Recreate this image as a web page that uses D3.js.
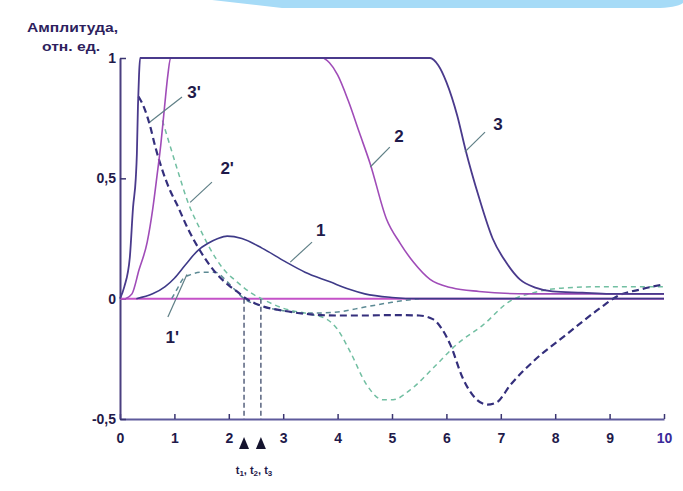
<!DOCTYPE html>
<html>
<head>
<meta charset="utf-8">
<script src="https://cdn.jsdelivr.net/npm/d3@7"></script>
<style>
  body { margin: 0; background: #fff; }
  svg { display: block; font-family: 'Liberation Sans', Arial, sans-serif; }
</style>
</head>
<body>
<svg id="chart" width="683" height="491"></svg>
<script>
// values

var xTicks = [0, 1, 2, 3, 4, 5, 6, 7, 8, 9, 10]
var yTicks = [1, 0.5, 0, -0.5]
var yTickLabels = ['1', '0,5', '0', '-0,5']

// solid curves
var curve3X = [0, 0.08, 0.18, 0.24, 0.29, 0.31, 0.33, 0.35, 0.37, 5.7, 5.85, 6.0, 6.2, 6.35, 6.6, 6.85, 7.1, 7.35, 7.65, 7.95, 8.5, 9, 10]
var curve3Y = [0, 0.05, 0.17, 0.38, 0.5, 0.6, 0.8, 0.93, 1, 1, 0.97, 0.9, 0.76, 0.62, 0.42, 0.25, 0.15, 0.08, 0.045, 0.03, 0.025, 0.02, 0.02]

var curve2X = [0.1, 0.22, 0.35, 0.5, 0.6, 0.68, 0.75, 0.82, 0.88, 0.93, 3.72, 3.85, 4.0, 4.2, 4.4, 4.6, 4.9, 5.15, 5.4, 5.7, 6.1, 6.6, 7.5, 10]
var curve2Y = [0, 0.02, 0.12, 0.235, 0.37, 0.51, 0.64, 0.8, 0.93, 1, 1, 0.98, 0.93, 0.82, 0.69, 0.56, 0.33, 0.23, 0.15, 0.08, 0.045, 0.03, 0.02, 0.02]

var curve1X = [0.3, 0.6, 0.83, 1.0, 1.2, 1.43, 1.62, 1.8, 1.97, 2.24, 2.61, 3.03, 3.4, 3.86, 4.2, 4.5, 5.0, 5.5, 10]
var curve1Y = [0, 0.02, 0.05, 0.085, 0.14, 0.2, 0.23, 0.25, 0.26, 0.25, 0.21, 0.155, 0.11, 0.07, 0.04, 0.02, 0.005, 0, 0]

// dashed curves
var curve3pX = [0.34, 0.45, 0.55, 0.65, 0.77, 0.9, 1.05, 1.25, 1.47, 1.75, 2.0, 2.15, 2.32, 2.6, 3.0, 3.5, 4.0, 4.5, 5.0, 5.5, 5.75, 5.9, 6.07, 6.3, 6.56, 6.75, 6.93, 7.17, 7.6, 8.2, 8.82, 9.14, 9.6, 10]
var curve3pY = [0.84, 0.79, 0.72, 0.63, 0.54, 0.46, 0.39, 0.29, 0.2, 0.11, 0.055, 0.03, 0, -0.03, -0.05, -0.065, -0.07, -0.07, -0.068, -0.07, -0.085, -0.12, -0.19, -0.33, -0.42, -0.44, -0.43, -0.36, -0.26, -0.15, -0.04, 0.01, 0.04, 0.06]

var curve2pX = [0.78, 0.86, 1.05, 1.25, 1.47, 1.65, 1.89, 2.15, 2.4, 2.6, 3.0, 3.5, 3.8, 3.99, 4.23, 4.54, 4.83, 5.02, 5.33, 5.75, 6.19, 6.67, 7.17, 7.6, 8.2, 9, 10]
var curve2pY = [0.74, 0.68, 0.54, 0.4, 0.29, 0.21, 0.126, 0.07, 0.025, 0, -0.04, -0.065, -0.085, -0.125, -0.22, -0.36, -0.42, -0.42, -0.38, -0.29, -0.19, -0.11, -0.01, 0.025, 0.045, 0.05, 0.05]

var curve1pX = [0.95, 1.05, 1.15, 1.3, 1.5, 1.75, 1.95, 2.1, 2.28, 2.6, 3.0, 3.5, 4.0, 4.5, 5.0, 5.5]
var curve1pY = [0, 0.04, 0.08, 0.1, 0.11, 0.11, 0.075, 0.04, 0, -0.03, -0.05, -0.06, -0.055, -0.035, -0.015, 0]

// zero crossings t1, t2, t3
var markT = [2.28, 2.59]

// curve labels: text, label x/y, leader from x/y to x/y
var labelText = ['1', '2', '3', "1'", "2'", "3'"]
var labelX = [3.69, 5.13, 6.95, 0.96, 1.97, 1.36]
var labelY = [0.285, 0.672, 0.725, -0.16, 0.539, 0.855]
var leaderX1 = [3.53, 4.96, 6.71, 0.88, 1.69, 1.14]
var leaderY1 = [0.235, 0.63, 0.692, -0.076, 0.484, 0.838]
var leaderX2 = [3.13, 4.6, 6.34, 1.23, 1.29, 0.55]
var leaderY2 = [0.152, 0.547, 0.61, 0.1, 0.4, 0.734]


var svg = d3.select('#chart')
var x = d3.scaleLinear().domain([0, 10]).range([120, 664])
var y = d3.scaleLinear().domain([-0.5, 1]).range([419, 58])
var ink = '#1f1a4a'

// slide decoration at the top
svg.append('path')
  .attr('d', 'M212,0 L683,0 L683,3 Q676,8 655,8 L282,8 Z')
  .attr('fill', '#a6dbf7')

// axes
var xAxis = svg.append('g')
  .attr('transform', 'translate(0,' + y(-0.5) + ')')
  .call(d3.axisBottom(x).tickValues(xTicks).tickSize(-5).tickSizeOuter(0).tickPadding(14))
var yAxis = svg.append('g')
  .attr('transform', 'translate(' + x(0) + ',0)')
  .call(d3.axisLeft(y).tickValues(yTicks).tickSize(-6).tickSizeOuter(0).tickPadding(4)
    .tickFormat(function (d, i) { return yTickLabels[i] }))

xAxis.select('.domain').attr('stroke', '#5e5a9c').attr('stroke-width', 2)
yAxis.select('.domain').attr('stroke', '#4a3f80').attr('stroke-width', 2)
svg.selectAll('.tick line').attr('stroke', '#3a3570').attr('stroke-width', 1.5)
svg.selectAll('.tick text')
  .attr('fill', ink)
  .attr('font-size', 14)
  .attr('font-weight', 'bold')
  .attr('font-family', "'Liberation Sans', Arial, sans-serif")
xAxis.selectAll('.tick text').filter(function (d) { return d == 10 }).attr('fill', '#3a2a9a')

// axis title
var title = svg.append('text').attr('fill', '#2e1f5e').attr('font-weight', 'bold').attr('font-size', 13)
title.append('tspan').attr('x', 27).attr('y', 32).attr('textLength', 91).attr('lengthAdjust', 'spacingAndGlyphs').text('Амплитуда,')
title.append('tspan').attr('x', 42).attr('y', 51).attr('textLength', 58).attr('lengthAdjust', 'spacingAndGlyphs').text('отн. ед.')

// zero line
svg.append('line')
  .attr('x1', x(0)).attr('x2', x(10))
  .attr('y1', y(0)).attr('y2', y(0))
  .attr('stroke', '#c452c8').attr('stroke-width', 2)

// dashed drop lines from the zero crossings
svg.selectAll('.drop')
  .data(markT)
  .enter().append('line')
  .attr('class', 'drop')
  .attr('x1', function (d) { return x(d) }).attr('x2', function (d) { return x(d) })
  .attr('y1', y(0)).attr('y2', y(-0.5))
  .attr('stroke', '#3d4a6a').attr('stroke-width', 1.3).attr('stroke-dasharray', '5,3')

svg.selectAll('.tri')
  .data(markT)
  .enter().append('path')
  .attr('class', 'tri')
  .attr('transform', function (d) { return 'translate(' + x(d) + ',443)' })
  .attr('d', 'M0,-6L5,6L-5,6Z')
  .attr('fill', '#15142e')

var tlab = svg.append('text').attr('x', 254).attr('y', 474).attr('text-anchor', 'middle')
  .attr('fill', ink).attr('font-size', 11).attr('font-weight', 'bold')
tlab.append('tspan').text('t')
tlab.append('tspan').attr('font-size', 8).attr('dy', 2).text('1')
tlab.append('tspan').attr('dy', -2).text(', t')
tlab.append('tspan').attr('font-size', 8).attr('dy', 2).text('2')
tlab.append('tspan').attr('dy', -2).text(', t')
tlab.append('tspan').attr('font-size', 8).attr('dy', 2).text('3')

// curves
var line = d3.line()
  .x(function (d) { return x(d[0]) })
  .y(function (d) { return y(d[1]) })
  .curve(d3.curveMonotoneX)

function drawCurve (xs, ys, color, width, dash) {
  svg.append('path')
    .datum(d3.zip(xs, ys))
    .attr('d', line)
    .attr('fill', 'none')
    .attr('stroke', color)
    .attr('stroke-width', width)
    .attr('stroke-dasharray', dash)
    .attr('stroke-linejoin', 'round')
}

drawCurve(curve2pX, curve2pY, '#72bfa2', 1.5, '5,4')
drawCurve(curve1pX, curve1pY, '#5c8a94', 1.5, '5,4')
drawCurve(curve3pX, curve3pY, '#342f7c', 2.2, '7,4')
drawCurve(curve1X, curve1Y, '#3e3a88', 1.6, null)
drawCurve(curve2X, curve2Y, '#a04cb8', 1.6, null)
drawCurve(curve3X, curve3Y, '#4a3a8c', 1.8, null)

// labels with leader lines
for (var i = 0; i < labelText.length; i++) {
  svg.append('line')
    .attr('x1', x(leaderX1[i])).attr('y1', y(leaderY1[i]))
    .attr('x2', x(leaderX2[i])).attr('y2', y(leaderY2[i]))
    .attr('stroke', '#5f7f86').attr('stroke-width', 1.2)
  svg.append('text')
    .attr('x', x(labelX[i])).attr('y', y(labelY[i]))
    .attr('text-anchor', 'middle').attr('dominant-baseline', 'central')
    .attr('fill', ink).attr('font-size', 17).attr('font-weight', 'bold')
    .text(labelText[i])
}
</script>
</body>
</html>
